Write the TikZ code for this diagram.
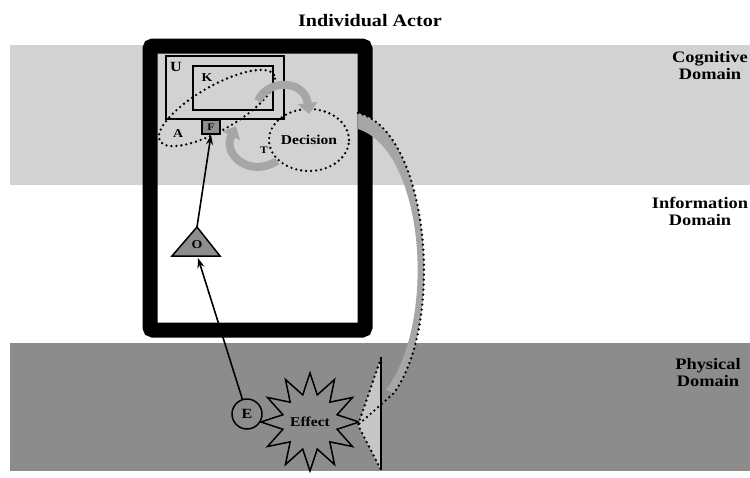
\documentclass[tikz,border=0pt]{standalone}
\usepackage{fontspec}
\setmainfont[FakeStretch=1.15]{Liberation Serif}
\usetikzlibrary{arrows.meta,shapes.geometric,calc}
\definecolor{cogband}{HTML}{D2D2D2}
\definecolor{phyband}{HTML}{8C8C8C}
\definecolor{midgray}{HTML}{8E8E8E}
\definecolor{arrgray}{HTML}{A6A6A6}
\definecolor{lightarr}{HTML}{C6C6C6}
\begin{document}
\begin{tikzpicture}[x=1pt,y=-1pt,
  big/.style={font=\bfseries\fontsize{16}{17}\selectfont, align=center, inner sep=0pt},
  small/.style={font=\bfseries\fontsize{12}{12}\selectfont, inner sep=0pt},
  dotline/.style={line width=2.6pt, line cap=round, dash pattern=on 0pt off 5pt},
  fatarrow/.style={line width=8pt, arrgray, -{Triangle[width=19pt,length=11pt]}},
  blackarrow/.style={line width=1.6pt, -{Stealth[length=10pt,width=7pt]}},
  boxline/.style={draw, line width=1.5pt}]
\useasboundingbox (0,0) rectangle (750,477);
\fill[white] (0,0) rectangle (750,477);
% bands
\fill[cogband] (10,45) rectangle (750,185);
\fill[phyband] (10,343) rectangle (750,471);
% actor box
\draw[line width=15pt, rounded corners=3pt] (150,46) rectangle (365,330);
\node[big, font=\bfseries\fontsize{17.5}{18}\selectfont] (title) at (370,21) {Individual Actor};
% domain labels
\node[big] (cog) at (710,66) {Cognitive\\Domain};
\node[big] (inf) at (700,211) {Information\\Domain};
\node[big] (phy) at (708,373) {Physical\\Domain};
% U and K
\node[boxline, minimum width=118pt, minimum height=63pt, anchor=north west, inner sep=0pt] (U) at (165,55) {};
\node[boxline, minimum width=80pt, minimum height=44pt, anchor=north west, inner sep=0pt] (K) at (192,65) {};
\node[big, font=\bfseries\fontsize{14}{14}\selectfont] (Ulbl) at (176,67) {U};
\node[small] (Klbl) at (207,78) {K};
% A ellipse
\draw[dotline, rotate around={30:(217,108)}] (217,108) ellipse [x radius=66pt, y radius=22pt];
\node[small] (Albl) at (178,134) {A};
% F
\node[boxline, fill=midgray, minimum width=18pt, minimum height=14pt, inner sep=0pt, font=\bfseries\fontsize{10}{10}\selectfont] (F) at (211,127) {F};
% Decision
\node[draw, dotline, ellipse, minimum width=80pt, minimum height=62pt, inner sep=0pt, font=\bfseries\fontsize{13.5}{13.5}\selectfont] (dec) at (309,140) {Decision};
% gray loop arrows
\coordinate (a1s) at (258,101);
\coordinate (a1e) at (309,114);
\draw[fatarrow] (a1s) .. controls (268,78) and (305,80) .. (a1e);
\coordinate (a2s) at (277,161);
\coordinate (a2e) at (236,126);
\draw[fatarrow] (a2s) .. controls (250,178) and (222,155) .. (a2e);
\node[small, font=\bfseries\fontsize{10}{10}\selectfont] (T) at (264,150) {T};
% O triangle
\coordinate (Otop) at (197,227);
\coordinate (Oleft) at (172,256);
\coordinate (Oright) at (220,256);
\coordinate (Obase) at (198,258);
\draw[line width=1.5pt, fill=midgray] (Otop) -- (Oleft) -- (Oright) -- cycle;
\node[small, font=\bfseries\fontsize{12}{12}\selectfont] (O) at (197,245) {O};
% E and Effect
\node[circle, draw, line width=1.5pt, minimum size=30pt, inner sep=0pt, font=\bfseries\fontsize{14}{14}\selectfont] (E) at (247,414) {E};
\node[star, star points=12, star point ratio=1.75, draw, line width=1.5pt, fill=phyband, minimum size=88pt, inner sep=0pt, font=\bfseries\fontsize{13.5}{13.5}\selectfont] (eff) at (310,422) {Effect};
% black arrows
\draw[blackarrow] (Otop) -- (F.south);
\draw[blackarrow] (E) -- (Obase);
% big curved arrow
\coordinate (b0) at (358,113);
\coordinate (b1) at (358,129);
\coordinate (bj) at (394,393);
\coordinate (bk) at (386,390);
\coordinate (tip) at (358,425);
\coordinate (barbU) at (381,358);
\coordinate (barbL) at (381,470);
\fill[arrgray] (b0) .. controls (428,130) and (446,320) .. (bj) -- (bk) .. controls (438,320) and (424,150) .. (b1) -- cycle;
\fill[lightarr] (tip) -- (barbU) -- (barbL) -- cycle;
\draw[line width=1.2pt] (barbU) -- (barbL);
\draw[dotline] (barbU) -- (tip) -- (barbL);
\draw[dotline] (b0) .. controls (428,130) and (446,320) .. (bj) -- (tip);
\end{tikzpicture}
\end{document}
